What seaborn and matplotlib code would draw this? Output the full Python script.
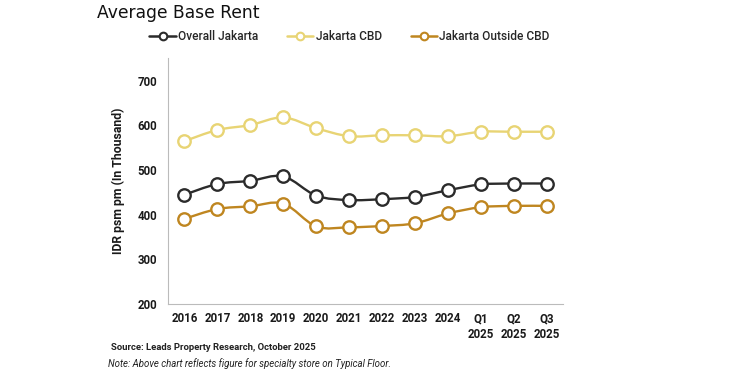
import numpy as np
import pandas as pd
import matplotlib
matplotlib.use("Agg")
import matplotlib.pyplot as plt
from matplotlib.path import Path
from matplotlib.patches import PathPatch
from matplotlib.lines import Line2D
import seaborn as sns

# Data (IDR psm pm, in thousand)
periods = ["2016", "2017", "2018", "2019", "2020", "2021", "2022", "2023", "2024",
           "Q1\n2025", "Q2\n2025", "Q3\n2025"]
overall = [445, 469, 476, 486, 443, 433, 435, 440, 455, 468, 470, 470]
cbd = [565, 590, 601, 618, 594, 576, 578, 578, 576, 586, 586, 586]
outside = [391, 413, 419, 425, 374, 372, 375, 381, 403, 417, 420, 420]

series_names = ["Overall Jakarta", "Jakarta CBD", "Jakarta Outside CBD"]
colors = {"Overall Jakarta": "#2b2b2b", "Jakarta CBD": "#e8d474", "Jakarta Outside CBD": "#bf8620"}

df = pd.DataFrame({"period": periods, "Overall Jakarta": overall,
                   "Jakarta CBD": cbd, "Jakarta Outside CBD": outside})
long = df.melt(id_vars="period", var_name="series", value_name="rent")
long["x"] = long["period"].map({p: i for i, p in enumerate(periods)})

sns.set_theme(style="white")
plt.rcParams["font.family"] = ["Roboto", "DejaVu Sans"]

fig = plt.figure(figsize=(7.5, 3.75), dpi=100)
ax = fig.add_axes([0.224, 0.189, 0.527, 0.655])


def smooth_path(xs, ys):
    # Catmull-Rom style smoothing, like Excel's "smoothed line"
    pts = np.column_stack([xs, ys]).astype(float)
    ext = np.vstack([pts[0], pts, pts[-1]])
    verts = [tuple(pts[0])]
    codes = [Path.MOVETO]
    for i in range(len(pts) - 1):
        p0, p1, p2, p3 = ext[i], ext[i + 1], ext[i + 2], ext[i + 3]
        c1 = p1 + (p2 - p0) / 6
        c2 = p2 - (p3 - p1) / 6
        verts += [tuple(c1), tuple(c2), tuple(p2)]
        codes += [Path.CURVE4] * 3
    return Path(verts, codes)


for name in series_names:
    sub = long[long["series"] == name]
    ax.add_patch(PathPatch(smooth_path(sub["x"], sub["rent"]), fill=False,
                           edgecolor=colors[name], linewidth=1.7, zorder=2))
    sns.scatterplot(data=sub, x="x", y="rent", ax=ax, s=80, marker="o", legend=False,
                    color="white", edgecolor=colors[name], linewidth=1.7, zorder=3)

ax.set_xlim(-0.5, len(periods) - 0.5)
ax.set_ylim(200, 750)
ax.set_yticks([200, 300, 400, 500, 600, 700])
ax.set_xticks(range(len(periods)))
ax.set_xticklabels(periods, fontsize=8.3, fontweight="bold", color="#1a1a1a",
                   linespacing=1.25)
ax.set_xticks(np.arange(-0.5, len(periods), 1), minor=True)
ax.tick_params(axis="x", which="major", length=0, pad=6)
ax.tick_params(axis="x", which="minor", length=3, direction="in", color="#bbbbbb", width=0.8)
ax.tick_params(axis="y", length=4, color="#bbbbbb", width=0.8, labelsize=8.3, pad=4)
for lab in ax.get_yticklabels():
    lab.set_fontweight("bold")
    lab.set_color("#1a1a1a")

for s in ["top", "right"]:
    ax.spines[s].set_visible(False)
for s in ["left", "bottom"]:
    ax.spines[s].set_color("#bbbbbb")
    ax.spines[s].set_linewidth(0.8)

ax.set_xlabel("")
ax.set_ylabel("IDR psm pm (In Thousand)", fontsize=8.8, fontweight="bold",
              color="#1a1a1a", labelpad=9)

handles = [Line2D([], [], color=colors[n], linewidth=1.8, marker="o", markersize=5.5,
                  markerfacecolor="white", markeredgewidth=1.5) for n in series_names]
fig.legend(handles, series_names, loc="center", bbox_to_anchor=(0.466, 0.903), ncol=3,
           frameon=False, handlelength=2.2, handletextpad=0.2,
           columnspacing=2.4, prop={"weight": "medium", "size": 8.6})

fig.text(0.129, 0.965, "Average Base Rent", fontsize=12.3, family="DejaVu Sans",
         color="#111111", va="center", ha="left")
fig.text(0.148, 0.072, "Source: Leads Property Research, October 2025", fontsize=6.8,
         fontweight="bold", color="#222222", va="center")
fig.text(0.144, 0.031, "Note: Above chart reflects figure for specialty store on Typical Floor.",
         fontsize=6.9, style="italic", color="#222222", va="center")

fig.savefig("out.png", dpi=100)
